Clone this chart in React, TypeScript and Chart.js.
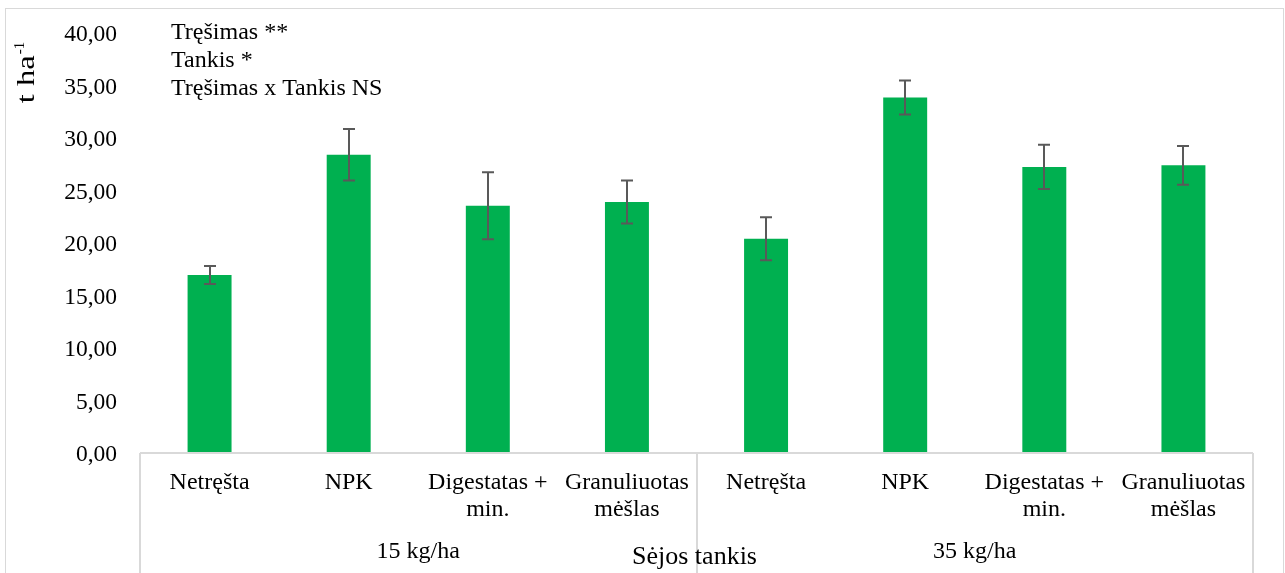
import React, { useEffect, useRef } from "react";
import { Chart, registerables } from "chart.js";

Chart.register(...registerables);

const categories: (string | string[])[] = [
  "Netręšta",
  "NPK",
  ["Digestatas +", "min."],
  ["Granuliuotas", "mėšlas"],
  "Netręšta",
  "NPK",
  ["Digestatas +", "min."],
  ["Granuliuotas", "mėšlas"],
];
const groups = ["15 kg/ha", "35 kg/ha"];
const values = [16.95, 28.4, 23.55, 23.9, 20.4, 33.85, 27.25, 27.4];
const errors = [0.85, 2.45, 3.2, 2.05, 2.05, 1.62, 2.1, 1.85];
const annotations = ["Tręšimas **", "Tankis *", "Tręšimas x Tankis NS"];
const yTitle = "t ha";
const yTitleSup = "-1";
const xTitle = "Sėjos tankis";

const FONT = "'Liberation Serif', 'Times New Roman', serif";
const GRAY = "#d9d9d9";

export default function App() {
  const ref = useRef<HTMLCanvasElement>(null);

  useEffect(() => {
    document.body.style.margin = "0";
    const canvas = ref.current!;
    const extras = {
      id: "extras",
      beforeDraw(chart: any) {
        const ctx = chart.ctx;
        ctx.save();
        ctx.fillStyle = "#ffffff";
        ctx.fillRect(0, 0, chart.width, chart.height);
        ctx.strokeStyle = GRAY;
        ctx.lineWidth = 1;
        ctx.strokeRect(5.5, 8.5, chart.width - 7, chart.height + 10);
        ctx.restore();
      },
      afterDatasetsDraw(chart: any) {
        const ctx = chart.ctx;
        const area = chart.chartArea;
        const ys = chart.scales.y;
        const meta = chart.getDatasetMeta(0);
        ctx.save();
        // error bars
        ctx.strokeStyle = "#595959";
        ctx.lineWidth = 2;
        meta.data.forEach((bar: any, i: number) => {
          const x = Math.round(bar.x);
          const yt = ys.getPixelForValue(values[i] + errors[i]);
          const yb = ys.getPixelForValue(values[i] - errors[i]);
          ctx.beginPath();
          ctx.moveTo(x, yt);
          ctx.lineTo(x, yb);
          ctx.moveTo(x - 6, yt);
          ctx.lineTo(x + 6, yt);
          ctx.moveTo(x - 6, yb);
          ctx.lineTo(x + 6, yb);
          ctx.stroke();
        });
        // axis line and separators
        ctx.strokeStyle = GRAY;
        ctx.lineWidth = 2;
        const yb = Math.round(area.bottom);
        ctx.beginPath();
        ctx.moveTo(area.left, yb);
        ctx.lineTo(area.right, yb);
        const mid = (area.left + area.right) / 2;
        [area.left, mid, area.right].forEach((x: number) => {
          ctx.moveTo(Math.round(x), yb);
          ctx.lineTo(Math.round(x), chart.height);
        });
        ctx.stroke();
        // group labels
        ctx.fillStyle = "#000";
        ctx.font = `24px ${FONT}`;
        ctx.textAlign = "center";
        ctx.textBaseline = "alphabetic";
        ctx.fillText(groups[0], (area.left + mid) / 2, 558);
        ctx.fillText(groups[1], (mid + area.right) / 2, 558);
        ctx.font = `26px ${FONT}`;
        ctx.fillText(xTitle, mid - 2, 564);
        // annotations
        ctx.font = `24px ${FONT}`;
        ctx.textAlign = "left";
        annotations.forEach((t, i) => {
          ctx.fillText(t, 171, 39 + i * 28.2);
        });
        // y title
        ctx.save();
        ctx.translate(34, 73);
        ctx.rotate(-Math.PI / 2);
        const sx = 1.25;
        ctx.font = `26px ${FONT}`;
        const w = ctx.measureText(yTitle).width * sx;
        ctx.font = `15px ${FONT}`;
        const ws = ctx.measureText(yTitleSup).width;
        const start = -(w + ws) / 2;
        ctx.textAlign = "left";
        ctx.save();
        ctx.translate(start, 0);
        ctx.scale(sx, 1);
        ctx.font = `26px ${FONT}`;
        ctx.fillText(yTitle, 0, 0);
        ctx.restore();
        ctx.font = `15px ${FONT}`;
        ctx.fillText(yTitleSup, start + w + 1, -10);
        ctx.restore();
        ctx.restore();
      },
    };

    const chart = new Chart(canvas, {
      type: "bar",
      data: {
        labels: categories as any,
        datasets: [
          {
            data: values,
            backgroundColor: "#00b050",
            borderWidth: 0,
            barPercentage: 0.316,
            categoryPercentage: 1,
          },
        ],
      },
      options: {
        animation: false,
        responsive: false,
        maintainAspectRatio: false,
        layout: { padding: { left: 0, right: 32, top: 33, bottom: 0 } },
        plugins: {
          legend: { display: false },
          tooltip: { enabled: false },
        },
        scales: {
          x: {
            grid: { display: false, drawTicks: false },
            border: { display: false },
            ticks: {
              color: "#000",
              font: { family: FONT, size: 24, lineHeight: 1.1 },
              maxRotation: 0,
              minRotation: 0,
              autoSkip: false,
              padding: 17,
            },
            afterFit(scale: any) {
              scale.height = 120;
              scale.paddingLeft = 0;
              scale.paddingRight = 0;
            },
          },
          y: {
            min: 0,
            max: 40,
            grid: { display: false, drawTicks: false },
            border: { display: false },
            ticks: {
              stepSize: 5,
              color: "#000",
              padding: 23,
              labelOffset: 2,
              font: { family: FONT, size: 23.5 },
              callback: (v: any) => Number(v).toFixed(2).replace(".", ","),
            },
            afterFit(scale: any) {
              scale.width = 140;
              scale.paddingTop = 0;
              scale.paddingBottom = 0;
            },
          },
        },
      },
      plugins: [extras],
    });
    return () => chart.destroy();
  }, []);

  return <canvas ref={ref} width={1285} height={573} style={{ display: "block" }} />;
}
